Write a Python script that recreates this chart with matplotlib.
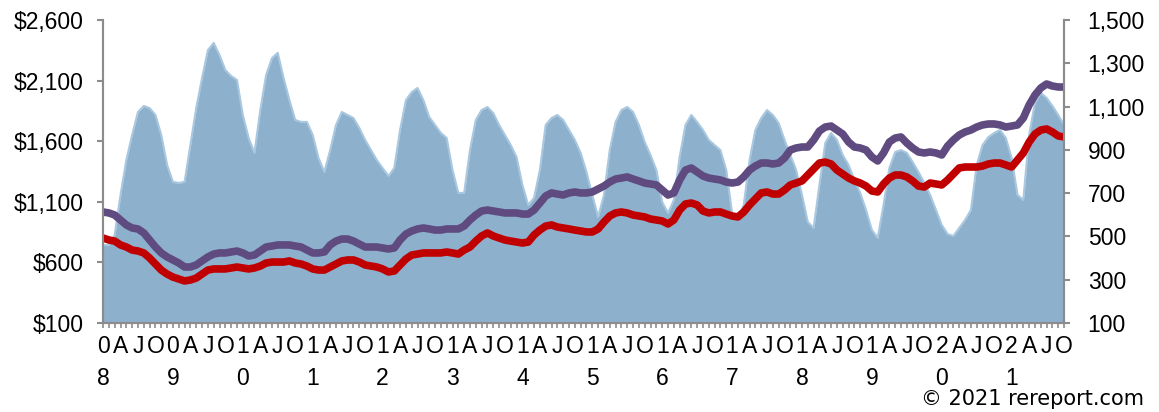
import matplotlib.pyplot as plt
from matplotlib.ticker import FixedLocator, MultipleLocator

plt.rcParams['font.family'] = ['Liberation Sans', 'DejaVu Sans']

# monthly, Jan 2008 .. Oct 2021
first_year = 2008
n_months = 166

# blue area, right axis
area = [460, 460, 507, 691, 853, 969, 1075, 1103, 1093, 1061, 969, 830,
        752, 747, 752, 922, 1093, 1232, 1361, 1394, 1338, 1269, 1241, 1223,
        1061, 955, 886, 1084, 1246, 1324, 1348, 1232, 1130, 1038, 1029, 1029,
        969, 862, 798, 899, 1015, 1075, 1061, 1047, 1001, 946, 899, 853,
        816, 779, 816, 992, 1130, 1167, 1186, 1130, 1052, 1015, 978, 955,
        807, 701, 701, 899, 1038, 1084, 1098, 1070, 1015, 969, 922, 867,
        738, 645, 678, 807, 1015, 1047, 1061, 1038, 992, 946, 886, 798,
        692, 590, 692, 899, 1029, 1084, 1098, 1075, 1015, 936, 876, 807,
        659, 608, 668, 867, 1015, 1061, 1029, 992, 946, 922, 899, 807,
        608, 585, 645, 853, 992, 1047, 1084, 1061, 1024, 946, 876, 807,
        692, 567, 539, 738, 932, 978, 946, 876, 830, 761, 701, 622,
        530, 493, 645, 816, 890, 899, 886, 844, 798, 747, 692, 622,
        553, 511, 502, 539, 576, 622, 830, 922, 959, 978, 992, 955,
        862, 692, 668, 969, 1117, 1163, 1140, 1103, 1061, 1015]

# purple line, left axis
purple = [1016, 1008, 991, 950, 909, 884, 876, 843, 785, 727, 678, 645,
          620, 595, 562, 562, 579, 612, 645, 669, 678, 678, 686, 694,
          678, 653, 661, 694, 727, 735, 744, 744, 744, 735, 727, 702,
          678, 678, 686, 744, 776, 793, 793, 776, 752, 727, 727, 727,
          719, 711, 719, 785, 834, 859, 876, 884, 876, 867, 867, 876,
          876, 876, 900, 950, 991, 1024, 1032, 1024, 1016, 1008, 1008, 1008,
          999, 999, 1032, 1090, 1148, 1173, 1164, 1156, 1173, 1181, 1173, 1173,
          1181, 1206, 1230, 1263, 1288, 1296, 1305, 1288, 1272, 1255, 1247, 1239,
          1197, 1156, 1173, 1280, 1362, 1379, 1346, 1313, 1296, 1288, 1280, 1263,
          1255, 1263, 1305, 1362, 1395, 1420, 1420, 1412, 1420, 1461, 1527, 1544,
          1552, 1552, 1610, 1684, 1717, 1725, 1692, 1659, 1593, 1552, 1544, 1527,
          1470, 1437, 1503, 1593, 1626, 1635, 1585, 1544, 1511, 1503, 1511, 1503,
          1486, 1560, 1610, 1651, 1676, 1692, 1717, 1734, 1742, 1742, 1734, 1717,
          1725, 1734, 1791, 1899, 1981, 2039, 2072, 2055, 2047, 2047]

# red line, left axis
red = [801, 785, 776, 744, 727, 702, 694, 678, 636, 587, 537, 504,
       479, 463, 447, 455, 471, 504, 537, 546, 546, 546, 554, 562,
       554, 546, 554, 570, 595, 603, 603, 603, 612, 595, 587, 570,
       546, 537, 537, 562, 587, 612, 620, 620, 603, 579, 570, 562,
       546, 521, 529, 579, 628, 661, 669, 678, 678, 678, 678, 686,
       678, 669, 702, 727, 776, 818, 843, 818, 801, 785, 776, 768,
       760, 768, 826, 867, 900, 909, 892, 884, 876, 867, 859, 851,
       851, 876, 933, 983, 1008, 1016, 1008, 991, 983, 975, 958, 950,
       942, 917, 950, 1032, 1082, 1090, 1074, 1024, 1008, 1016, 1016, 999,
       983, 975, 1016, 1074, 1123, 1173, 1181, 1164, 1164, 1197, 1239, 1255,
       1272, 1321, 1371, 1420, 1428, 1412, 1362, 1329, 1296, 1272, 1255, 1230,
       1189, 1181, 1247, 1296, 1321, 1321, 1305, 1272, 1230, 1222, 1255, 1247,
       1239, 1280, 1329, 1379, 1387, 1387, 1387, 1395, 1412, 1420, 1420, 1404,
       1387, 1445, 1503, 1593, 1659, 1692, 1701, 1676, 1643, 1635]

left_ticks = [100, 600, 1100, 1600, 2100, 2600]
right_ticks = [100, 300, 500, 700, 900, 1100, 1300, 1500]
quarter_letters = ['A', 'J', 'O']

months = list(range(n_months))
xlabels = []
for m in range(0, n_months, 3):
    q = (m % 12) // 3
    if q == 0:
        yy = str(first_year + m // 12)
        xlabels.append(yy[2] + '\n' + yy[3])
    else:
        xlabels.append(quarter_letters[q - 1])

fig = plt.figure(figsize=(11.59, 4.12), dpi=100)
ax = fig.add_axes([0.0889, 0.216, 0.8292, 0.7355])
ax2 = ax.twinx()

# area on the right axis, lines on the left axis drawn above it
ax2.fill_between(months, 100, area, color='#8DB0CD', lw=0)
ax2.plot(months, area, color='#A9C8E0', lw=1.5)
ax.plot(months, purple, color='#5F4B80', lw=5.5, solid_capstyle='round')
ax.plot(months, red, color='#C00000', lw=5.5, solid_capstyle='round')
ax.set_zorder(ax2.get_zorder() + 1)
ax.patch.set_visible(False)

ax.set_xlim(0, n_months - 1)
ax.set_ylim(100, 2600)
ax2.set_ylim(100, 1500)

ax.set_yticks(left_ticks)
ax.set_yticklabels(['${:,}'.format(v) for v in left_ticks])
ax2.set_yticks(right_ticks)
ax2.set_yticklabels(['{:,}'.format(v) for v in right_ticks])

ax.xaxis.set_major_locator(FixedLocator(list(range(0, n_months, 3))))
ax.set_xticklabels(xlabels, linespacing=1.5)
ax.xaxis.set_minor_locator(MultipleLocator(1))

grey = '#8C8C8C'
for a in (ax, ax2):
    a.spines['top'].set_visible(False)
    for s in ('left', 'right', 'bottom'):
        a.spines[s].set_color(grey)
        a.spines[s].set_linewidth(1.5)
ax.tick_params(axis='y', length=4, width=1.5, color=grey, pad=10, labelsize=16.5)
ax2.tick_params(axis='y', length=4, width=1.5, color=grey, pad=13, labelsize=16.5)
ax.tick_params(axis='x', which='both', length=3.5, width=1.2, color=grey, pad=5,
               labelsize=16.5)

fig.text(0.987, 0.008, '\u00a9 2021 rereport.com', ha='right', va='bottom',
         fontsize=15, family='DejaVu Sans')

fig.savefig('out.png', dpi=100)
